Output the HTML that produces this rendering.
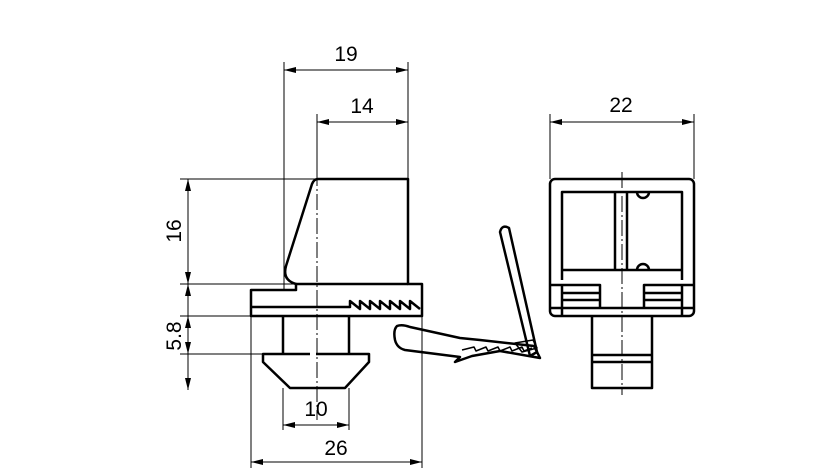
<!DOCTYPE html>
<html><head><style>body{margin:0;background:#fff}svg{display:block}</style></head><body>
<svg width="827" height="472" viewBox="0 0 827 472" xmlns="http://www.w3.org/2000/svg" font-family="Liberation Sans, sans-serif">
<g stroke="#000" stroke-width="1" fill="none">
<path d="M284 62V290M408 62V179M317 114V179M180 179H317M180 284H296M180 316H251M180 354H283M251 316V468M422 316V468M283 388V430M349 388V430M550 114V179M694 114V179"/>
<path d="M284 70H408M317 122H408M188 179V284M188 284V390M283 425H349M251 462H422M550 122H694"/>
<path d="M317 170V420M622 172V395" stroke-dasharray="16 3 2 3"/>
</g>
<g fill="#000">
<path d="M284 70l12-3v6zM408 70l-12-3v6zM317 122l12-3v6zM408 122l-12-3v6zM550 122l12-3v6zM694 122l-12-3v6z"/>
<path d="M283 425l12-3v6zM349 425l-12-3v6zM251 462l12-3v6zM422 462l-12-3v6z"/>
<path d="M188 179l-3 12h6zM188 284l-3-12h6zM188 316l-3 12h6zM188 354l-3-12h6zM188 284l-3 12h6zM188 390l-3-12h6z"/>
</g>
<g stroke="#000" stroke-width="2.5" fill="none" stroke-linejoin="round">
<path d="M296 284V290H251V316H422V284H408V179H318Q314 179 312 184L286 266Q282 280 296 284Z"/>
<path d="M408 284H296M251 307H350V301l10 8V301l10 8V301l10 8V301l10 8V301l10 8V301l10 8V301l10 8"/>
<path d="M283 316V354H263V362L290 388H345L369 362V354H316M349 316V354M283 354H310"/>
<path d="M500 232Q502 224 509 228L537 352L530 356Z"/>
<path d="M397 326Q393 330 395 340Q397 348 405 350L460 357L455 362L472 356L500 351L540 358L534 346L480 340L460 338L410 327Q402 324 397 326Z"/>
<path d="M462 350l12-3 2 4 10-4 2 4 10-4 2 4 10-4 2 4 10-4 2 4 8-3" stroke-width="1.5"/>
<path d="M515 343l18-3 4 8-15 4z" stroke-width="1.5"/>
<rect x="550" y="179" width="144" height="137" rx="5"/>
<path d="M562 280V192H682V280M562 270H682M615 192V270M627 192V270"/>
<path d="M637 192A6 6 0 0 0 649 192M637 270A6 6 0 0 1 649 270"/>
<path d="M550 285H600V308H550M694 285H644V308H694M562 293H600M562 300H600M644 293H682M644 300H682M562 285V316M682 285V316M550 308H694"/>
<path d="M592 316V388H652V316M592 355H652M592 362H652"/>
</g>
<g font-size="21" fill="#000" text-anchor="middle">
<text x="346" y="61">19</text>
<text x="362" y="113">14</text>
<text x="621" y="112">22</text>
<text x="316" y="416">10</text>
<text x="336" y="455">26</text>
<text transform="translate(181,231) rotate(-90)">16</text>
<text transform="translate(181,336) rotate(-90)">5.8</text>
</g>
</svg>
</body></html>
